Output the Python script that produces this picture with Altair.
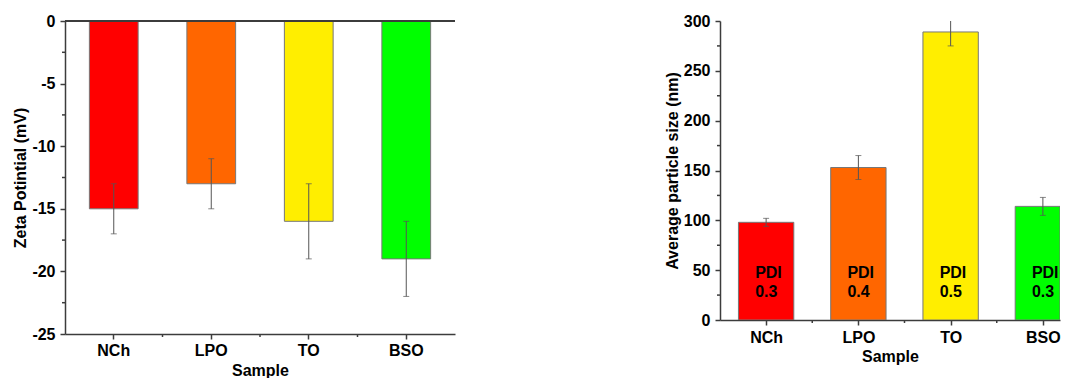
import altair as alt
import pandas as pd

# ---- data ----
samples = ["NCh", "LPO", "TO", "BSO"]
bar_colors = ["#FF0000", "#FF6600", "#FFEE00", "#00FF00"]
zeta = [-15, -13, -16, -19]
zeta_err = [2, 2, 3, 3]
size = [98, 153, 289, 114]
size_err = [4, 12, 14, 9]
pdi = ["0.3", "0.4", "0.5", "0.3"]
zeta_ticks = [-25, -20, -15, -10, -5, 0]
zeta_minor = [-22.5, -17.5, -12.5, -7.5, -2.5]
size_ticks = [0, 50, 100, 150, 200, 250, 300]
size_minor = [25, 75, 125, 175, 225, 275]

df = pd.DataFrame({
    "Sample": samples,
    "zeta": zeta,
    "zeta_err": zeta_err,
    "size": size,
    "size_err": size_err,
    "pdi": pdi,
})
df["idx"] = range(len(samples))
df["zlo"] = df["zeta"] - df["zeta_err"]
df["zhi"] = df["zeta"] + df["zeta_err"]
df["slo"] = df["size"] - df["size_err"]
df["shi"] = df["size"] + df["size_err"]
df["label"] = "PDI\n" + df["pdi"]

zminor_df = pd.DataFrame({"zeta": zeta_minor})
sminor_df = pd.DataFrame({"size": size_minor})

FONT = "Liberation Sans"
AX = "#3c3c3c"
EB = "#555555"
OUT = "#777777"
MINUS_FIX = "replace(datum.label, '\u2212', '-')"

color = alt.Color("Sample:N", scale=alt.Scale(domain=samples, range=bar_colors), legend=None)

# ---------------- left chart ----------------
LW, LH = 390, 313
L_PI, L_PO = 0.5, 0.25
L_STEP = LW / (len(samples) - L_PI + 2 * L_PO)


def xL(bp=None):
    kw = {}
    if bp is not None:
        kw["bandPosition"] = bp
    return alt.X("Sample:N", sort=samples,
                 scale=alt.Scale(paddingInner=L_PI, paddingOuter=L_PO),
                 axis=alt.Axis(title="Sample", labelAngle=0, labelPadding=3,
                               titlePadding=4, tickSize=5), **kw)


def yL(field):
    return alt.Y(f"{field}:Q", scale=alt.Scale(domain=[-25, 0], nice=False, zero=True),
                 axis=alt.Axis(title="Zeta Potintial (mV)", values=zeta_ticks,
                               labelExpr=MINUS_FIX,
                               tickSize=5, labelPadding=5, titlePadding=3))


base_l = alt.Chart(df)
bars_l = base_l.mark_bar(stroke=OUT, strokeWidth=1).encode(x=xL(), y=yL("zeta"), color=color)
err_l = base_l.mark_rule(color=EB, strokeWidth=1).encode(x=xL(), y=yL("zlo"), y2="zhi:Q")
cap_lo_l = base_l.mark_tick(color=EB, thickness=1, size=6).encode(x=xL(), y=yL("zlo"))
cap_hi_l = base_l.mark_tick(color=EB, thickness=1, size=6).encode(x=xL(), y=yL("zhi"))
top_l = base_l.mark_rule(color=AX, strokeWidth=1.5).encode(y=alt.value(0))
yminor_l = alt.Chart(zminor_df).mark_rule(color=AX, strokeWidth=1.5).encode(
    y=yL("zeta"), x=alt.value(-3), x2=alt.value(0))
xminor_l = base_l.transform_filter(alt.datum.Sample != "BSO").mark_rule(
    color=AX, strokeWidth=1.5, xOffset=L_STEP * L_PI / 2).encode(
    x=xL(1), y=alt.value(LH), y2=alt.value(LH + 3))

left = alt.layer(bars_l, err_l, cap_lo_l, cap_hi_l, top_l, yminor_l, xminor_l).properties(
    width=LW, height=LH)

# ---------------- right chart ----------------
# category positions on a continuous axis so the last bar can run off the edge
RW, RH = 340, 299
R_STEP = 92.25
R_HALF = 0.3          # half bar width, in category steps
R_MAX = RW / R_STEP
r_centers = [i + 0.5 for i in range(len(samples))]
r_minor = [i + 1.0 for i in range(len(samples) - 1)]
names_js = "[" + ",".join(f"'{s}'" for s in samples) + "]"


def xR(field="pos"):
    return alt.X(f"{field}:Q",
                 scale=alt.Scale(domain=[0, R_MAX], nice=False, zero=False, clamp=True),
                 axis=alt.Axis(title="Sample", values=r_centers, labelPadding=4,
                               labelExpr=f"{names_js}[floor(datum.value)]",
                               titlePadding=3, tickSize=5))


def yR(field):
    return alt.Y(f"{field}:Q", scale=alt.Scale(domain=[0, 300], nice=False),
                 axis=alt.Axis(title="Average particle size (nm)", values=size_ticks,
                               tickSize=5, labelPadding=5, titlePadding=3))


base_r = alt.Chart(df).transform_calculate(
    pos="datum.idx + 0.5",
    x0=f"datum.idx + 0.5 - {R_HALF}",
    x1=f"datum.idx + 0.5 + {R_HALF}",
)
bars_r = base_r.mark_bar(stroke=OUT, strokeWidth=1, clip=True).encode(
    x=xR("x0"), x2="x1:Q", y=yR("size"), y2=alt.datum(0), color=color)
err_r = base_r.mark_rule(color=EB, strokeWidth=1, clip=True).encode(
    x=xR(), y=yR("slo"), y2="shi:Q")
cap_lo_r = base_r.mark_tick(color=EB, thickness=1, size=6, orient="horizontal").encode(
    x=xR(), y=yR("slo"))
cap_hi_r = base_r.mark_tick(color=EB, thickness=1, size=6, orient="horizontal",
                            clip=True).encode(x=xR(), y=yR("shi"))
text_r = base_r.mark_text(align="left", baseline="middle", dx=-11, lineBreak="\n",
                          lineHeight=19, font=FONT, fontSize=16, fontWeight="bold",
                          color="black").encode(
    x=xR(), y=alt.datum(47), text="label:N")
yminor_r = alt.Chart(sminor_df).mark_rule(color=AX, strokeWidth=1.5).encode(
    y=yR("size"), x=alt.value(-3), x2=alt.value(0))
xminor_r = alt.Chart(pd.DataFrame({"pos": r_minor})).mark_rule(
    color=AX, strokeWidth=1.5).encode(
    x=xR(), y=alt.value(RH), y2=alt.value(RH + 3))

right = alt.layer(bars_r, err_r, cap_lo_r, cap_hi_r, text_r, yminor_r, xminor_r).properties(
    width=RW, height=RH)

chart = alt.hconcat(left, right, spacing=208).properties(
    padding={"left": 4, "top": 5, "right": 0, "bottom": 0}
).configure(font=FONT).configure_view(stroke=None).configure_axis(
    labelFont=FONT, titleFont=FONT, labelFontSize=16, titleFontSize=16,
    labelFontWeight="bold", titleFontWeight="bold", labelColor="black",
    titleColor="black", domainColor=AX, domainWidth=1.5, tickColor=AX,
    tickWidth=1.5, grid=False
)

chart.save("out.html", embed_options={"renderer": "svg", "actions": False})
